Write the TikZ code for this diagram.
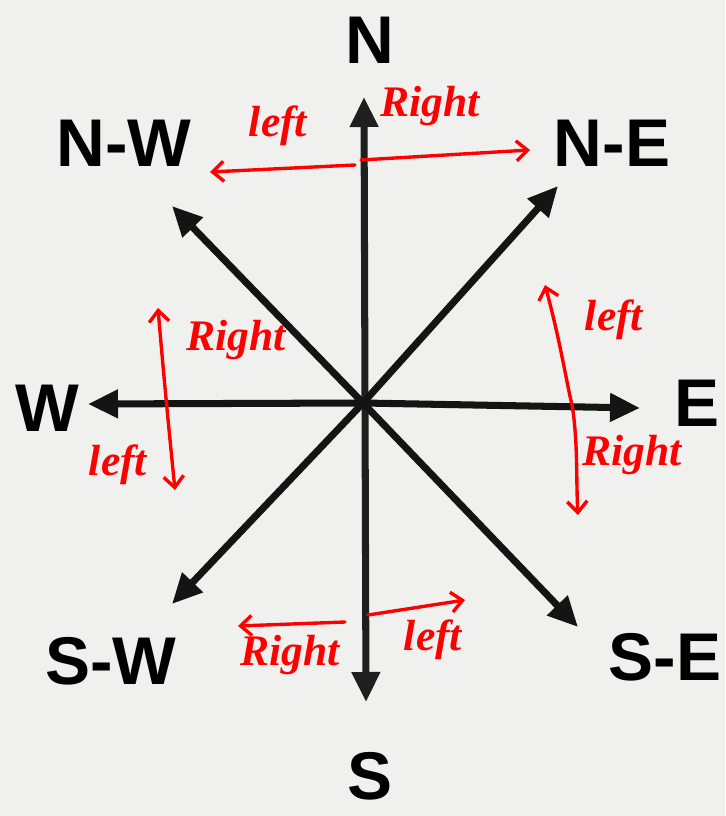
\documentclass[tikz,border=0pt]{standalone}
\usepackage{fontspec}
\setmainfont{Liberation Sans}
\newfontfamily\handfont{Liberation Serif}
\usetikzlibrary{arrows.meta}
\definecolor{paper}{HTML}{F0F0EF}
\definecolor{inkred}{HTML}{FF0000}

\begin{document}
\begin{tikzpicture}[x=0.025cm, y=-0.025cm,
  dirlabel/.style={font=\fontsize{48}{48}\selectfont\bfseries, inner sep=0pt},
  ray/.style={line width=5pt, black!92, -{Triangle[length=0.75cm,width=0.68cm]}},
  hand/.style={inkred, line width=2.4pt, line cap=round,
    -{Straight Barb[length=2.8mm,width=5mm,line width=2.4pt]}},
  handboth/.style={hand, {Straight Barb[length=2.8mm,width=5mm,line width=2.4pt]}-{Straight Barb[length=2.8mm,width=5mm,line width=2.4pt]}},
  note/.style={inkred, font=\fontsize{31}{31}\selectfont\handfont\itshape\bfseries, inner sep=0pt}]
\fill[paper] (0,0) rectangle (725,816);
\useasboundingbox (0,0) rectangle (725,816);

% rays of the compass
\coordinate (c) at (363,403);
\coordinate (tipN) at (364,97);
\coordinate (tipS) at (366,702);
\coordinate (tipW) at (88,404);
\coordinate (tipE) at (640,408);
\coordinate (tipNW) at (172,206);
\coordinate (tipNE) at (558,186);
\coordinate (tipSW) at (172,604);
\coordinate (tipSE) at (578,627);
\draw[ray, black!88, {Triangle[length=0.75cm,width=0.68cm]}-{Triangle[length=0.75cm,width=0.68cm]}] (tipS) -- (tipN);
\foreach \t in {W,E,NW,NE,SW,SE}
  \draw[ray] (c) -- (tip\t);

\node[dirlabel] (lN) at (370,40) {N};
\node[dirlabel] (lNW) at (124,143) {N-W};
\node[dirlabel] (lNE) at (612,143) {N-E};
\node[dirlabel] (lW) at (47,408) {W};
\node[dirlabel] (lE) at (697,403) {E};
\node[dirlabel] (lSW) at (111,661) {S-W};
\node[dirlabel] (lSE) at (665,657) {S-E};
\node[dirlabel] (lS) at (370,776) {S};

% turning notes
\coordinate (nwA) at (355,165);
\coordinate (nwB) at (210,172);
\coordinate (neA) at (361,160);
\coordinate (neB) at (530,150);
\draw[hand] (nwA) -- (nwB);
\draw[hand] (neA) -- (neB);
\node[note] (tl) at (278,126) {left};
\node[note] (tr) at (430,106) {Right};

\coordinate (wA) at (158,308);
\coordinate (wB) at (175,490);
\draw[handboth] (wA) .. controls (164,380) and (170,440) .. (wB);
\node[note] (wr) at (236,340) {Right};
\node[note] (wl) at (118,465) {left};

\coordinate (eA) at (545,285);
\coordinate (eB) at (578,515);
\draw[handboth] (eA) .. controls (560,340) and (566,380) .. (572,405) .. controls (578,440) and (576,480) .. (eB);
\node[note] (el) at (614,320) {left};
\node[note] (er) at (632,455) {Right};

\coordinate (swA) at (345,622);
\coordinate (swB) at (238,626);
\coordinate (seA) at (368,615);
\coordinate (seB) at (465,600);
\draw[hand] (swA) -- (swB);
\draw[hand] (seA) -- (seB);
\node[note] (br) at (290,655) {Right};
\node[note] (bl) at (433,640) {left};
\end{tikzpicture}
\end{document}
